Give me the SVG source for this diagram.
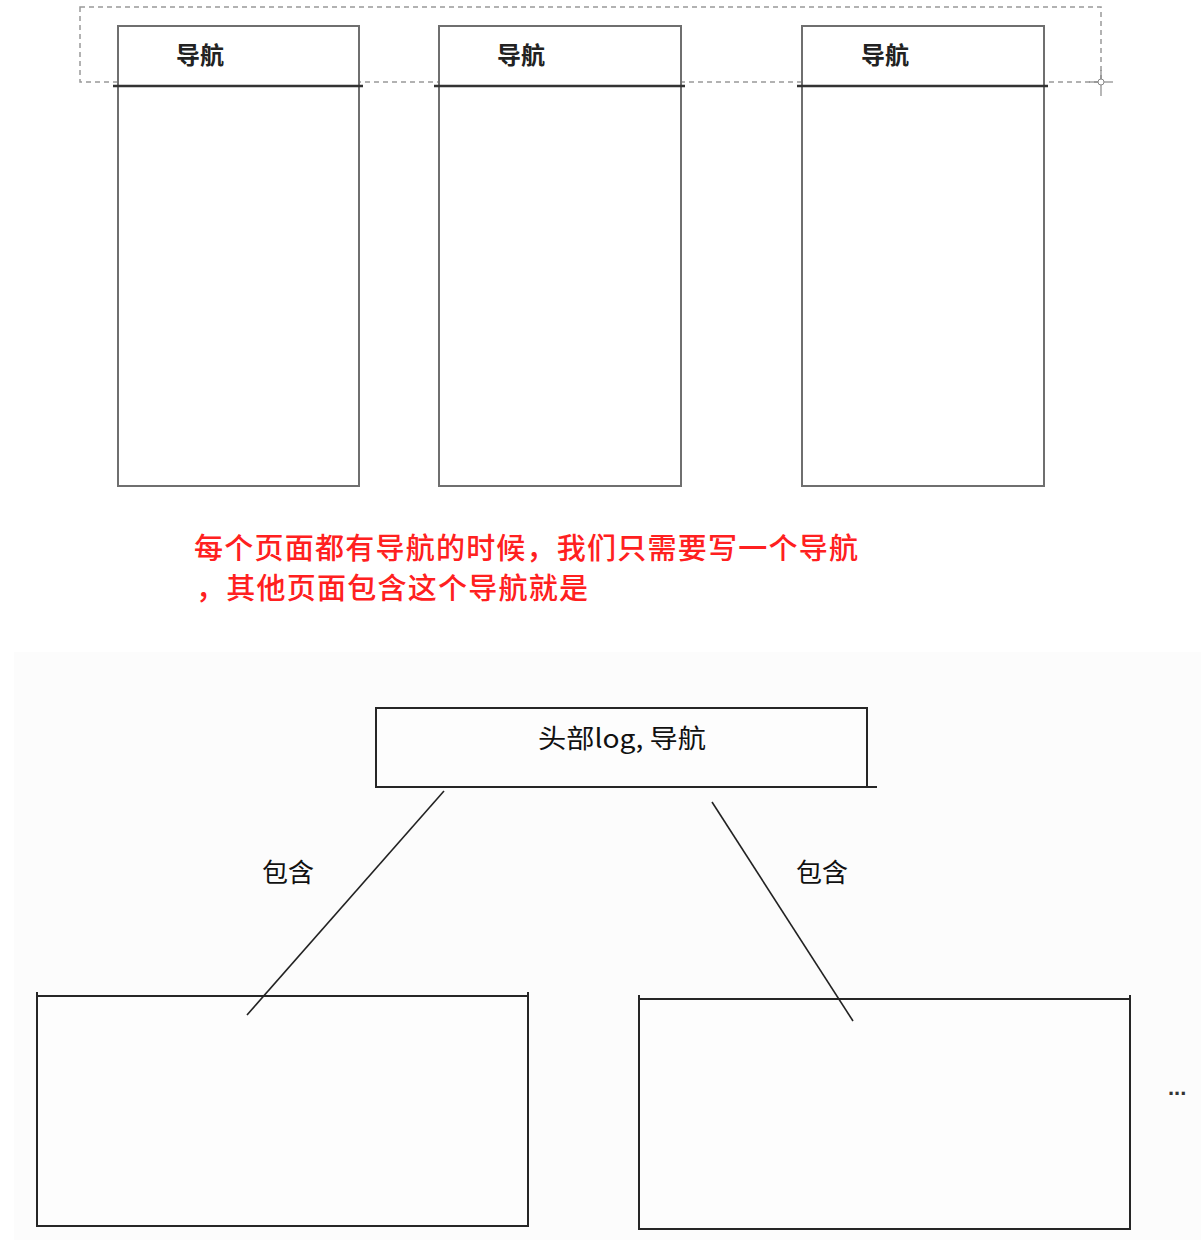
<svg xmlns="http://www.w3.org/2000/svg" width="1201" height="1240" viewBox="0 0 1201 1240">
<style>
.page{fill:#fff;stroke:#6f6f6f;stroke-width:2}
.hdr{stroke:#333;stroke-width:2.5}
.nav{font-family:"Noto Sans CJK SC","Noto Sans",sans-serif;font-size:24px;font-weight:bold;fill:#222}
.note{font-family:"Noto Sans CJK SC","Noto Sans",sans-serif;font-size:29px;font-weight:500;fill:#ff2020}
.lbl{font-family:"Noto Sans CJK SC","Noto Sans",sans-serif;font-size:26px;fill:#111}
.box{fill:#fdfdfd;stroke:#262626;stroke-width:2}
.conn{stroke:#222;stroke-width:1.6;fill:none}
.tick{stroke:#262626;stroke-width:2}
</style>
<rect x="0" y="0" width="1201" height="1240" fill="#fff"/>
<rect x="14" y="652" width="1187" height="588" fill="#fcfcfc"/>
<g id="selection">
<rect x="80" y="7" width="1021" height="75" fill="none" stroke="#999" stroke-width="1.5" stroke-dasharray="5,4"/>
<line x1="1089" y1="82" x2="1113" y2="82" stroke="#888" stroke-width="1.2"/>
<line x1="1101" y1="70" x2="1101" y2="96" stroke="#888" stroke-width="1.2"/>
<circle cx="1101" cy="82" r="3" fill="#fff" stroke="#888" stroke-width="1"/>
</g>
<g id="page1">
<rect class="page" x="118" y="26" width="241" height="460"/>
<line class="hdr" x1="113" y1="86" x2="363" y2="86"/>
<text class="nav" x="176" y="64">导航</text>
</g>
<g id="page2">
<rect class="page" x="439" y="26" width="242" height="460"/>
<line class="hdr" x1="434" y1="86" x2="685" y2="86"/>
<text class="nav" x="497" y="64">导航</text>
</g>
<g id="page3">
<rect class="page" x="802" y="26" width="242" height="460"/>
<line class="hdr" x1="797" y1="86" x2="1048" y2="86"/>
<text class="nav" x="861" y="64">导航</text>
</g>
<g id="note">
<text class="note" x="194" y="559" textLength="664" lengthAdjust="spacing">每个页面都有导航的时候，我们只需要写一个导航</text>
<text class="note" x="196" y="599" textLength="392" lengthAdjust="spacing">，其他页面包含这个导航就是</text>
</g>
<g id="header-box">
<rect class="box" x="376" y="708" width="491" height="79"/>
<line class="tick" x1="867" y1="787" x2="877" y2="787"/>
<text class="lbl" x="622" y="748" text-anchor="middle" textLength="168" lengthAdjust="spacingAndGlyphs">头部log, 导航</text>
</g>
<g id="label-left"><text class="lbl" x="262" y="882">包含</text></g>
<g id="label-right"><text class="lbl" x="796" y="882">包含</text></g>
<g id="page-a">
<rect class="box" x="37" y="996" width="491" height="230"/>
<line class="tick" x1="37" y1="992" x2="37" y2="996"/>
<line class="tick" x1="528" y1="992" x2="528" y2="996"/>
</g>
<g id="page-b">
<rect class="box" x="639" y="999" width="491" height="230"/>
<line class="tick" x1="639" y1="995" x2="639" y2="999"/>
<line class="tick" x1="1130" y1="995" x2="1130" y2="999"/>
</g>
<g id="more"><text x="1168" y="1095" font-family="Liberation Sans, sans-serif" font-size="22" font-weight="bold" fill="#333">...</text></g>
<g id="connectors">
<line class="conn" x1="444" y1="791" x2="247" y2="1015"/>
<line class="conn" x1="712" y1="802" x2="853" y2="1021"/>
</g>
</svg>
